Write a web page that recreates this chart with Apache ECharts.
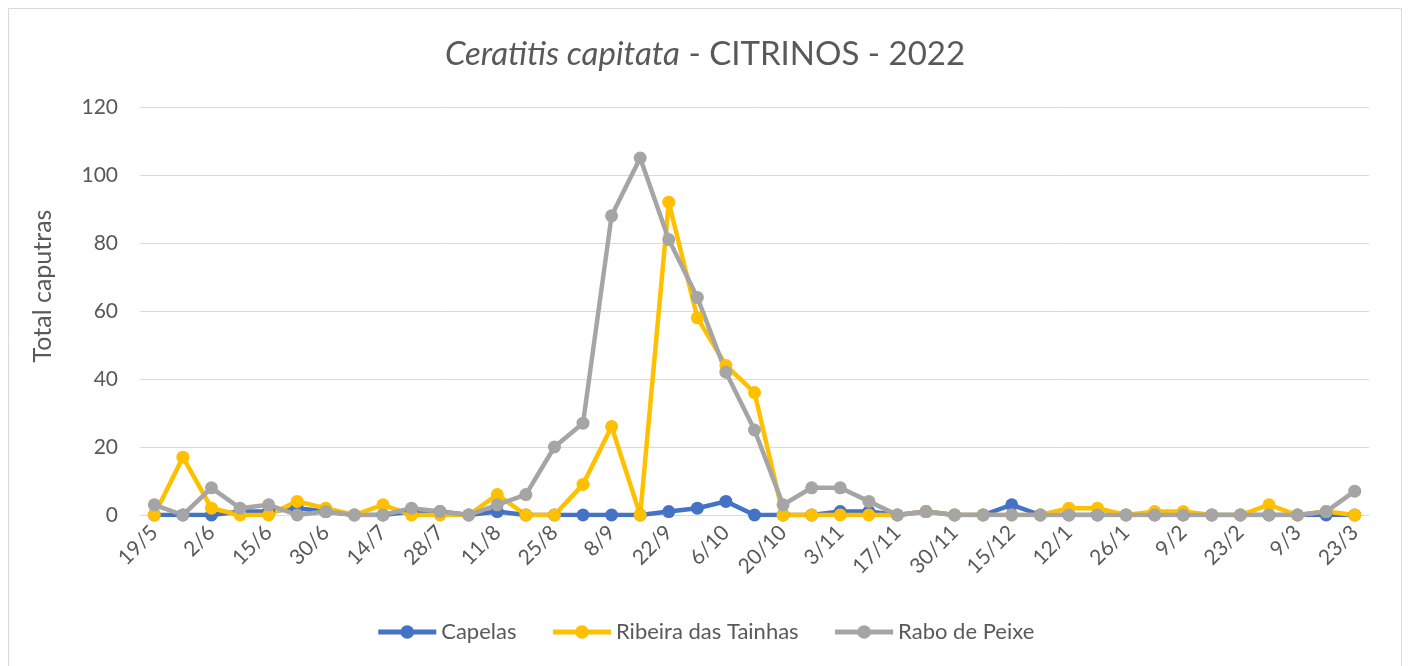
<!DOCTYPE html>
<html>
<head>
<meta charset="utf-8">
<title>Ceratitis capitata - CITRINOS - 2022</title>
<script src="https://cdn.jsdelivr.net/npm/echarts@6/dist/echarts.min.js"></script>
<style>
    html, body { margin: 0; padding: 0; background: #ffffff; }
    #main { width: 1410px; height: 666px; }
</style>
</head>
<body>
<div id="main"></div>
<script>
// datas de recolha (só as de índice par aparecem no eixo)
var dateList = [
    "19/5", "26/5", "2/6", "9/6", "15/6", "22/6", "30/6", "7/7", "14/7", "21/7",
    "28/7", "4/8", "11/8", "18/8", "25/8", "1/9", "8/9", "15/9", "22/9", "29/9",
    "6/10", "13/10", "20/10", "27/10", "3/11", "10/11", "17/11", "24/11", "30/11", "7/12",
    "15/12", "29/12", "12/1", "19/1", "26/1", "2/2", "9/2", "16/2", "23/2", "2/3",
    "9/3", "16/3", "23/3"
];

var capelasList = [
    0, 0, 0, 1, 1, 2, 1, 0, 0, 1,
    1, 0, 1, 0, 0, 0, 0, 0, 1, 2,
    4, 0, 0, 0, 1, 1, 0, 1, 0, 0,
    3, 0, 0, 0, 0, 0, 0, 0, 0, 0,
    0, 0, 0
];

var ribeiraList = [
    0, 17, 2, 0, 0, 4, 2, 0, 3, 0,
    0, 0, 6, 0, 0, 9, 26, 0, 92, 58,
    44, 36, 0, 0, 0, 0, 0, 1, 0, 0,
    0, 0, 2, 2, 0, 1, 1, 0, 0, 3,
    0, 1, 0
];

var raboList = [
    3, 0, 8, 2, 3, 0, 1, 0, 0, 2,
    1, 0, 3, 6, 20, 27, 88, 105, 81, 64,
    42, 25, 3, 8, 8, 4, 0, 1, 0, 0,
    0, 0, 0, 0, 0, 0, 0, 0, 0, 0,
    0, 1, 7
];

var yTicks = [0, 20, 40, 60, 80, 100, 120];

(function () {
    var myChart = echarts.init(document.getElementById("main"));

    var textColor = "#595959";
    var font = "Lato, 'Open Sans', sans-serif";

    var option = {
        backgroundColor: "#ffffff",
        color: ["#4472C4", "#FFC000", "#A5A5A5"],
        animation: false,
        title: {
            text: "{i|Ceratitis capitata} - CITRINOS - 2022",
            left: "center",
            top: 33,
            textStyle: {
                fontFamily: font,
                fontSize: 33,
                fontWeight: "normal",
                color: textColor,
                rich: {
                    i: {
                        fontFamily: font,
                        fontSize: 33,
                        fontStyle: "italic",
                        color: textColor
                    }
                }
            }
        },
        graphic: [
            {
                type: "rect",
                shape: { x: 8.5, y: 8.5, width: 1393, height: 680 },
                style: { fill: "none", stroke: "#D9D9D9", lineWidth: 1 },
                silent: true
            }
        ],
        legend: {
            bottom: 18,
            left: "center",
            itemWidth: 58,
            itemHeight: 17,
            itemGap: 34,
            itemStyle: {
                borderWidth: 0
            },
            lineStyle: {
                width: 5
            },
            textStyle: {
                fontFamily: font,
                fontSize: 22,
                color: textColor
            },
            data: ["Capelas", "Ribeira das Tainhas", "Rabo de Peixe"]
        },
        grid: {
            left: 140,
            right: 41,
            top: 107,
            bottom: 151,
            containLabel: false
        },
        xAxis: {
            type: "category",
            boundaryGap: true,
            data: dateList,
            axisTick: {
                show: false
            },
            axisLine: {
                show: true,
                lineStyle: { color: "#D9D9D9", width: 1 }
            },
            axisLabel: {
                interval: 1,
                rotate: 45,
                margin: 14,
                fontFamily: font,
                fontSize: 21,
                color: textColor
            }
        },
        yAxis: {
            type: "value",
            min: yTicks[0],
            max: yTicks[yTicks.length - 1],
            interval: 20,
            name: "Total caputras",
            nameLocation: "middle",
            nameGap: 85,
            nameRotate: 90,
            nameTextStyle: {
                fontFamily: font,
                fontSize: 25,
                color: textColor,
                padding: [0, 0, 0, 50]
            },
            axisTick: {
                show: false
            },
            axisLine: {
                show: false
            },
            axisLabel: {
                margin: 22,
                fontFamily: font,
                fontSize: 21,
                color: textColor
            },
            // linhas de grelha
            splitLine: {
                lineStyle: {
                    color: "#D9D9D9",
                    width: 1
                }
            }
        },
        series: [
            {
                name: "Capelas",
                type: "line",
                smooth: false,
                symbol: "circle",
                symbolSize: 13,
                lineStyle: { width: 4.5 },
                data: capelasList
            },
            {
                name: "Ribeira das Tainhas",
                type: "line",
                smooth: false,
                symbol: "circle",
                symbolSize: 13,
                lineStyle: { width: 4.5 },
                data: ribeiraList
            },
            {
                name: "Rabo de Peixe",
                type: "line",
                smooth: false,
                symbol: "circle",
                symbolSize: 13,
                lineStyle: { width: 4.5 },
                data: raboList
            }
        ]
    };

    myChart.setOption(option);
    window.addEventListener("resize", function () {
        myChart.resize();
    });
})();
</script>
</body>
</html>
